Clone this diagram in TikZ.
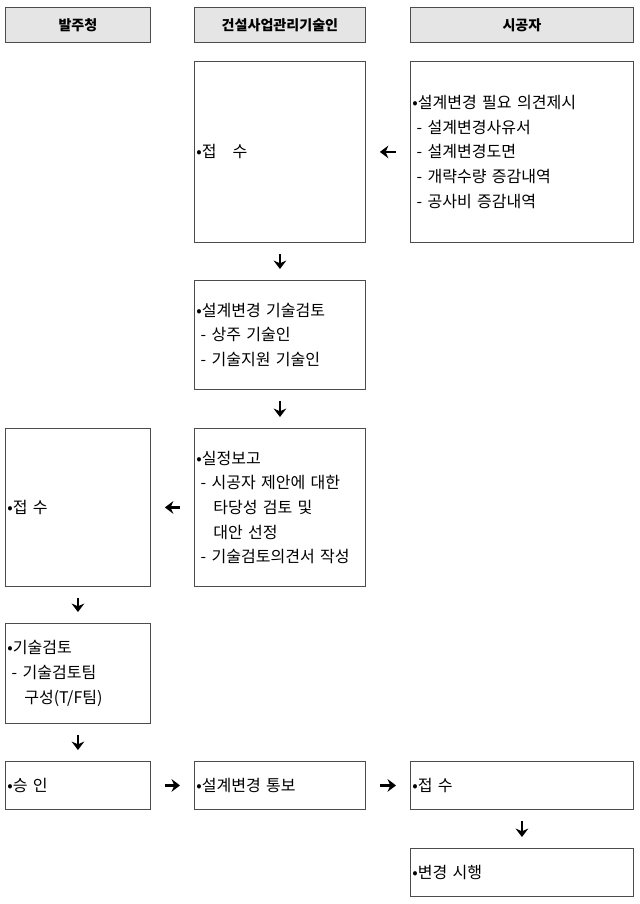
\documentclass[tikz,border=0pt]{standalone}
\usepackage{fontspec}
\setmainfont{Noto Sans CJK KR}
\usetikzlibrary{arrows.meta}

\tikzset{
  headbox/.style={draw=black!70, fill=black!10, line width=0.6pt, anchor=north west, align=center, inner xsep=0.05cm, inner ysep=0pt, minimum height=0.875cm, font=\bfseries},
  stepbox/.style={draw=black!70, line width=0.6pt, anchor=north west, align=left, inner xsep=0.05cm, inner ysep=0pt},
  colA/.style={text width=3.525cm},
  colB/.style={text width=4.175cm},
  colC/.style={text width=5.475cm},
  vgo/.style={line width=2pt, -{Stealth[length=6pt,width=9pt]}, shorten <=0.275cm, shorten >=0.275cm},
  hgo/.style={line width=2pt, -{Stealth[length=6pt,width=9pt]}, shorten <=0.35cm, shorten >=0.35cm},
}

\begin{document}
\begin{tikzpicture}[x=0.025cm,y=-0.025cm,font=\fontsize{11.4pt}{17.5pt}\selectfont]
	\useasboundingbox (0,0) rectangle (640,904);

	%headers
	\node[headbox,colA] (hOwner) at (5,7) {발주청};
	\node[headbox,colB] (hCM) at (194,7) {건설사업관리기술인};
	\node[headbox,colC] (hBuilder) at (410,7) {시공자};

	%first row
	\node[stepbox,colB,minimum height=4.525cm] (cmRecv) at (194,61) {•접\quad 수};
	\node[stepbox,colC,minimum height=4.525cm] (proposal) at (410,61) {•설계변경 필요 의견제시\\
		\hspace*{3pt}- 설계변경사유서\\
		\hspace*{3pt}- 설계변경도면\\
		\hspace*{3pt}- 개략수량 증감내역\\
		\hspace*{3pt}- 공사비 증감내역};

	%review by CM
	\node[stepbox,colB,minimum height=2.725cm] (cmReview) at (194,280) {•설계변경 기술검토\\
		\hspace*{3pt}- 상주 기술인\\
		\hspace*{3pt}- 기술지원 기술인};
	\node[stepbox,colB,minimum height=3.95cm] (report) at (194,428) {•실정보고\\
		\hspace*{3pt}- 시공자 제안에 대한\\
		\hspace*{12pt}타당성 검토 및\\
		\hspace*{12pt}대안 선정\\
		\hspace*{3pt}- 기술검토의견서 작성};

	%owner side
	\node[stepbox,colA,minimum height=3.95cm] (ownRecv) at (5,428) {•접 수};
	\node[stepbox,colA,minimum height=2.5cm] (ownReview) at (5,623) {•기술검토\\
		\hspace*{3pt}- 기술검토팀\\
		\hspace*{12pt}구성(T/F팀)};

	%last row
	\node[stepbox,colA,minimum height=1.2cm] (approve) at (5,761) {•승 인};
	\node[stepbox,colB,minimum height=1.2cm] (notify) at (194,761) {•설계변경 통보};
	\node[stepbox,colC,minimum height=1.2cm] (bldRecv) at (410,761) {•접 수};
	\node[stepbox,colC,minimum height=1.2cm] (execute) at (410,848) {•변경 시행};

	%arrows
	\draw[hgo] (proposal) -- (cmRecv);
	\draw[vgo] (cmRecv) -- (cmReview);
	\draw[vgo] (cmReview) -- (report);
	\draw[hgo] (report) -- (ownRecv);
	\draw[vgo] (ownRecv) -- (ownReview);
	\draw[vgo] (ownReview) -- (approve);
	\draw[hgo] (approve) -- (notify);
	\draw[hgo] (notify) -- (bldRecv);
	\draw[vgo] (bldRecv) -- (execute);
\end{tikzpicture}
\end{document}
